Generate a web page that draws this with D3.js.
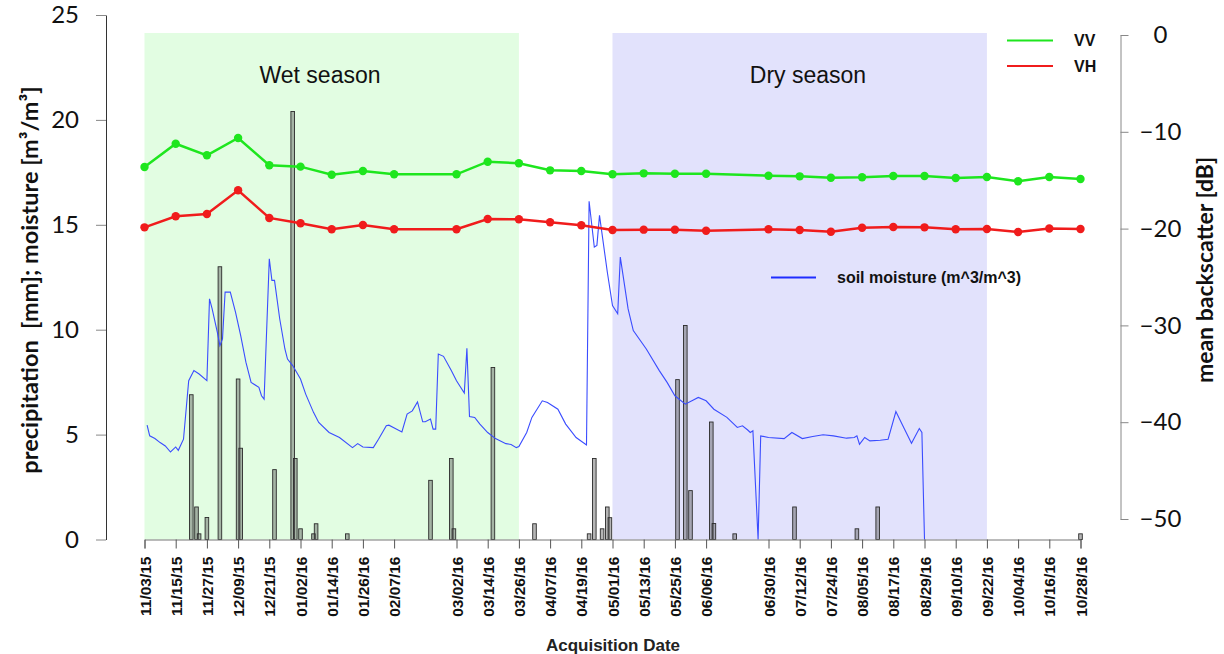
<!DOCTYPE html>
<html>
<head>
<meta charset="utf-8">
<script src="https://cdn.jsdelivr.net/npm/d3@7"></script>
<style>
body { margin: 0; background: #fff; }
svg { display: block; }
</style>
</head>
<body>
<script>
// acquisition dates (x ticks) and mean backscatter
var acqDates = ['11/03/15','11/15/15','11/27/15','12/09/15','12/21/15','01/02/16','01/14/16','01/26/16','02/07/16',
  '03/02/16','03/14/16','03/26/16','04/07/16','04/19/16','05/01/16','05/13/16','05/25/16','06/06/16',
  '06/30/16','07/12/16','07/24/16','08/05/16','08/17/16','08/29/16','09/10/16','09/22/16','10/04/16','10/16/16','10/28/16'];
var vv = [-13.64,-11.23,-12.43,-10.64,-13.46,-13.6,-14.43,-14.05,-14.39,
  -14.39,-13.09,-13.25,-13.98,-14.05,-14.39,-14.29,-14.33,-14.33,
  -14.54,-14.6,-14.74,-14.7,-14.57,-14.57,-14.77,-14.67,-15.11,-14.67,-14.88];
var vh = [-19.87,-18.73,-18.49,-16.04,-18.9,-19.45,-20.07,-19.63,-20.07,
  -20.07,-19.01,-19.04,-19.35,-19.66,-20.14,-20.11,-20.11,-20.22,
  -20.07,-20.14,-20.32,-19.91,-19.83,-19.87,-20.07,-20.04,-20.35,-19.99,-20.04];

// daily precipitation, days counted from 11/03/15
var precipDay = [18,20,21,24,29,36,37,50,57,58,60,65,66,78,110,118,119,134,150,
  171,173,176,178,179,205,208,210,218,219,227,250,274,282,360];
var precipValue = [6.9,1.55,0.27,1.05,13.0,7.65,4.35,3.33,20.4,3.86,0.51,0.27,0.75,0.27,2.82,3.86,0.51,8.2,0.75,
  0.27,3.86,0.51,1.55,1.04,7.62,10.2,2.33,5.6,0.76,0.27,1.55,0.51,1.55,0.27];

// soil moisture, days counted from 11/03/15
var smDay = [1,2,4,6,8,10,12,13,15,17,19,21,24,25,26,28,29,30,31,33,35,37,39,41,44,45,46,48,49,50,52,54,55,57,60,62,65,67,71,75,
  80,82,84,88,90,93,94,97,99,101,103,105,107,108,110,111,112,113,115,118,120,123,124,125,127,129,132,135,139,141,143,144,
  147,149,153,155,159,162,166,170,171,173,174,175,178,180,182,183,186,188,193,198,201,204,208,213,216,219,224,228,230,232,
  233,234,236,237,240,246,249,253,257,261,265,270,273,274,275,276,277,279,283,286,289,292,295,298,299,300];
var smValue = [5.45,4.94,4.81,4.62,4.46,4.17,4.41,4.25,4.78,7.57,8.05,7.89,7.57,11.47,11.0,9.88,9.24,9.56,11.79,11.79,10.84,9.72,8.45,7.49,7.25,6.85,6.69,13.38,12.35,12.35,10.52,9.08,8.6,8.29,7.65,6.93,6.06,5.58,5.1,4.86,
  4.38,4.57,4.41,4.38,4.78,5.42,5.45,5.26,5.13,5.98,6.13,6.56,5.61,5.61,5.74,5.26,5.26,8.84,8.73,8.05,7.57,6.98,9.12,5.86,5.82,5.5,5.1,4.81,4.57,4.53,4.38,4.43,
  5.1,5.82,6.61,6.53,6.21,5.5,4.86,4.51,16.12,13.94,14.02,15.45,12.75,11.15,10.76,13.46,10.99,9.96,9.08,8.05,7.49,6.85,6.45,6.77,6.61,6.21,5.82,5.34,5.42,5.22,
  5.1,5.18,0,4.94,4.86,4.81,5.1,4.81,4.91,4.99,4.94,4.83,4.86,4.94,4.54,4.7,4.86,4.7,4.73,4.78,6.1,5.34,4.59,5.29,5.1,0];

var seasons = [
  {name: 'Wet season', from: '11/03/15', to: '03/26/16', color: '#e2fde2'},
  {name: 'Dry season', from: '05/01/16', to: '09/22/16', color: '#e2e2fc'}
];
var leftTicks = [0,5,10,15,20,25];
var rightTicks = [0,-10,-20,-30,-40,-50];

var parse = d3.timeParse('%m/%d/%y');
var start = parse(acqDates[0]);
var dayToDate = function(d){ return d3.timeDay.offset(start, d); };

var drawChart = function(){
  var svg = d3.select('body').append('svg').attr('width',1224).attr('height',654);

  var x = d3.scaleTime().domain([start, parse(acqDates[acqDates.length-1])]).range([144.5,1080.5]);
  var yL = d3.scaleLinear().domain([0,25]).range([539.5,15]);
  var yR = d3.scaleLinear().domain([-50,0]).range([519,35]);

  // season bands
  svg.selectAll('rect.season').data(seasons).enter().append('rect')
    .attr('x', function(d){return x(parse(d.from));})
    .attr('width', function(d){return x(parse(d.to)) - x(parse(d.from));})
    .attr('y', 33).attr('height', 539.5-33)
    .attr('fill', function(d){return d.color;});
  svg.selectAll('text.season').data(seasons).enter().append('text')
    .attr('x', function(d,i){return i===0 ? 320 : 808;})
    .attr('y', 83)
    .attr('text-anchor','middle')
    .style('font-family','"Liberation Sans", Arial, sans-serif')
    .style('font-size','23px')
    .attr('fill','#111')
    .text(function(d){return d.name;});

  // precipitation bars
  svg.append('g').selectAll('rect').data(precipDay).enter().append('rect')
    .attr('x', function(d){return x(dayToDate(d)) - 1.8;})
    .attr('width', 3.6)
    .attr('y', function(d,i){return yL(precipValue[i]);})
    .attr('height', function(d,i){return yL(0) - yL(precipValue[i]);})
    .attr('fill','rgba(90,90,90,0.45)')
    .attr('stroke','#2b2b2b')
    .attr('stroke-width',0.9);

  // soil moisture
  var smLine = d3.line()
    .x(function(d){return x(dayToDate(d));})
    .y(function(d,i){return yL(smValue[i]);});
  svg.append('path').datum(smDay)
    .attr('d', smLine)
    .attr('fill','none')
    .attr('stroke','#3a4cff')
    .attr('stroke-width',1.1);

  // backscatter lines
  var series = [{vals: vv, color: '#1ee61e'}, {vals: vh, color: '#f01c1c'}];
  series.forEach(function(s){
    var line = d3.line()
      .x(function(d){return x(parse(d));})
      .y(function(d,i){return yR(s.vals[i]);});
    svg.append('path').datum(acqDates)
      .attr('d', line).attr('fill','none')
      .attr('stroke', s.color).attr('stroke-width',2.5);
    svg.append('g').selectAll('circle').data(acqDates).enter().append('circle')
      .attr('cx', function(d){return x(parse(d));})
      .attr('cy', function(d,i){return yR(s.vals[i]);})
      .attr('r',4.2)
      .attr('fill', s.color);
  });

  // axes
  var xAxis = svg.append('g').attr('transform','translate(0,539.5)')
    .call(d3.axisBottom(x).tickValues(acqDates.map(parse))
      .tickFormat(d3.timeFormat('%m/%d/%y')).tickSizeOuter(0).tickSize(9));
  xAxis.select('.domain').attr('stroke','#777');
  xAxis.selectAll('.tick line').attr('stroke','#555');
  xAxis.selectAll('.tick text')
    .attr('transform','rotate(-90)')
    .attr('x',-17).attr('y',0).attr('dy','0.36em')
    .attr('text-anchor','end')
    .style('font-family','"Liberation Sans", Arial, sans-serif')
    .style('font-size','15.5px').style('font-weight','bold').attr('fill','#111');

  var yAxisL = svg.append('g').attr('transform','translate(106,0)')
    .call(d3.axisLeft(yL).tickValues(leftTicks).tickSize(10).tickSizeOuter(0).tickPadding(17));
  yAxisL.select('.domain').attr('stroke','#333');
  yAxisL.selectAll('.tick line').attr('stroke','#888');
  yAxisL.selectAll('.tick text')
    .style('font-family','Lato, sans-serif').style('font-size','24px').attr('fill','#111');

  var yAxisR = svg.append('g').attr('transform','translate(1120.5,0)')
    .call(d3.axisRight(yR).tickValues(rightTicks).tickSize(8).tickSizeOuter(0).tickPadding(32));
  yAxisR.select('.domain').attr('stroke','#888');
  yAxisR.selectAll('.tick line').attr('stroke','#888');
  yAxisR.selectAll('.tick text')
    .attr('text-anchor','middle')
    .style('font-family','Lato, sans-serif').style('font-size','24px').attr('fill','#111');

  // axis titles
  svg.append('text')
    .attr('transform','translate(38,280) rotate(-90)')
    .attr('text-anchor','middle')
    .style('font-family','Lato, sans-serif').style('font-size','23.5px').style('font-weight','bold')
    .attr('fill','#111')
    .text('precipitation\u00a0 [mm]; moisture [m\u00b3/m\u00b3]');
  svg.append('text')
    .attr('transform','translate(1213,270) rotate(-90)')
    .attr('text-anchor','middle')
    .style('font-family','Lato, sans-serif').style('font-size','23px').style('font-weight','bold')
    .attr('fill','#111')
    .text('mean backscatter [dB]');
  svg.append('text')
    .attr('x',613).attr('y',651)
    .attr('text-anchor','middle')
    .style('font-family','"Liberation Sans", Arial, sans-serif')
    .style('font-size','17px').style('font-weight','bold').attr('fill','#222')
    .text('Acquisition Date');

  // legends
  var legend = [
    {label: 'VV', color: '#1ee61e', x1: 1007, x2: 1053, y: 40.5, tx: 1074, size: 16},
    {label: 'VH', color: '#f01c1c', x1: 1007, x2: 1053, y: 66, tx: 1074, size: 16},
    {label: 'soil moisture (m^3/m^3)', color: '#1f2dff', x1: 771, x2: 816, y: 277.5, tx: 837, size: 16}
  ];
  var lg = svg.append('g').selectAll('g').data(legend).enter().append('g');
  lg.append('line')
    .attr('x1', function(d){return d.x1;}).attr('x2', function(d){return d.x2;})
    .attr('y1', function(d){return d.y;}).attr('y2', function(d){return d.y;})
    .attr('stroke', function(d){return d.color;}).attr('stroke-width',2);
  lg.append('text')
    .attr('x', function(d){return d.tx;}).attr('y', function(d){return d.y + 5.5;})
    .style('font-family','"Liberation Sans", Arial, sans-serif')
    .style('font-size', function(d){return d.size + 'px';}).style('font-weight','bold').attr('fill','#111')
    .text(function(d){return d.label;});
};

window.onload = function(){
  drawChart();
};
</script>
</body>
</html>
